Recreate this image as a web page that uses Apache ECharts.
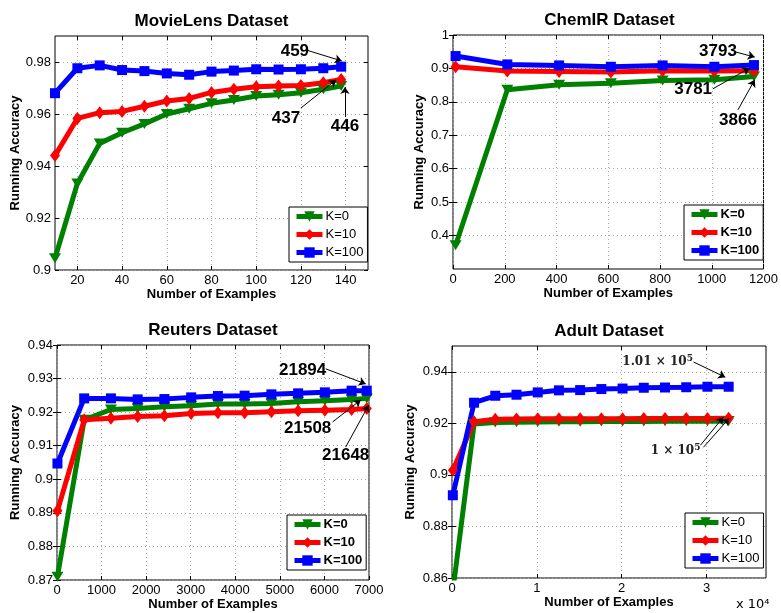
<!DOCTYPE html>
<html>
<head>
<meta charset="utf-8">
<script src="https://cdn.jsdelivr.net/npm/echarts@6/dist/echarts.min.js"></script>
<style>
  html, body { margin: 0; padding: 0; background: #fff; }
  #chart { width: 781px; height: 613px; }
</style>
</head>
<body>
<div id="chart"></div>
<script>
const FONT = '"Liberation Sans", Arial, Helvetica, sans-serif';
const seriesNames = ['K=0', 'K=10', 'K=100'];
const colors = ['#008000', '#ff0000', '#0000ff'];

// MovieLens
const movieX = [10, 20, 30, 40, 50, 60, 70, 80, 90, 100, 110, 120, 130, 138];
const movieK0 = [0.9045, 0.9333, 0.9487, 0.9528, 0.9562, 0.9600, 0.9620, 0.9641, 0.9654, 0.9669, 0.9674, 0.9682, 0.9695, 0.9708];
const movieK10 = [0.9440, 0.9583, 0.9605, 0.9610, 0.9630, 0.9650, 0.9660, 0.9683, 0.9695, 0.9705, 0.9708, 0.9710, 0.9720, 0.9733];
const movieK100 = [0.9680, 0.9776, 0.9787, 0.9769, 0.9765, 0.9756, 0.9751, 0.9763, 0.9767, 0.9772, 0.9771, 0.9772, 0.9776, 0.9782];
const movieXTicks = [20, 40, 60, 80, 100, 120, 140];
const movieYTicks = [0.9, 0.92, 0.94, 0.96, 0.98];
const movieNotes = ['459', '437', '446'];

// ChemIR
const chemX = [10, 210, 410, 610, 810, 1010, 1163];
const chemK0 = [0.371, 0.836, 0.851, 0.856, 0.864, 0.866, 0.876];
const chemK10 = [0.905, 0.892, 0.891, 0.889, 0.893, 0.892, 0.893];
const chemK100 = [0.937, 0.912, 0.909, 0.905, 0.909, 0.905, 0.910];
const chemXTicks = [0, 200, 400, 600, 800, 1000, 1200];
const chemYTicks = [0.4, 0.5, 0.6, 0.7, 0.8, 0.9, 1];
const chemNotes = ['3793', '3781', '3866'];

// Reuters
const reutersX = [10, 610, 1210, 1810, 2410, 3010, 3610, 4210, 4810, 5410, 6010, 6610, 6950];
const reutersK0 = [0.8710, 0.9177, 0.9208, 0.9211, 0.9216, 0.9219, 0.9224, 0.9224, 0.9226, 0.9231, 0.9234, 0.9238, 0.9241];
const reutersK10 = [0.8906, 0.9177, 0.9182, 0.9187, 0.9189, 0.9196, 0.9198, 0.9198, 0.9201, 0.9204, 0.9206, 0.9208, 0.9211];
const reutersK100 = [0.9047, 0.9241, 0.9241, 0.9238, 0.9239, 0.9244, 0.9248, 0.9249, 0.9253, 0.9256, 0.9259, 0.9264, 0.9264];
const reutersXTicks = [0, 1000, 2000, 3000, 4000, 5000, 6000, 7000];
const reutersYTicks = [0.87, 0.88, 0.89, 0.9, 0.91, 0.92, 0.93, 0.94];
const reutersNotes = ['21894', '21508', '21648'];

// Adult
const adultX = [100, 2600, 5100, 7600, 10100, 12600, 15100, 17600, 20100, 22600, 25100, 27600, 30100, 32600];
const adultK0 = [0.855, 0.9197, 0.9203, 0.9204, 0.9205, 0.9206, 0.9206, 0.9207, 0.9207, 0.9207, 0.9208, 0.9208, 0.9208, 0.9209];
const adultK10 = [0.9018, 0.9206, 0.9216, 0.9217, 0.9218, 0.9218, 0.9218, 0.9218, 0.9218, 0.9219, 0.9219, 0.9219, 0.9219, 0.9220];
const adultK100 = [0.8921, 0.9280, 0.9307, 0.9311, 0.9320, 0.9328, 0.9329, 0.9333, 0.9335, 0.9338, 0.9339, 0.9340, 0.9342, 0.9342];
const adultXTicks = [0, 10000, 20000, 30000];
const adultYTicks = [0.86, 0.88, 0.9, 0.92, 0.94];
const adultNotes = ['{a|1.01 × 10}{s|5}', '{a|1 × 10}{s|5}'];

const decimalFmt = (v) => String(+(+v).toFixed(3));

const panels = [
  {
    title: 'MovieLens Dataset', x: movieX, ys: [movieK0, movieK10, movieK100],
    xMin: 10, xMax: 150, yMin: 0.9, yMax: 0.99, xTicks: movieXTicks, yTicks: movieYTicks,
    grid: { left: 55, top: 36, width: 313, height: 234 }, yNameGap: 33,
    legend: { left: 289, top: 207 }, legendBold: false,
    notes: movieNotes,
    noteAt: [[117.3, 0.9842], [113.3, 0.9585], [139.7, 0.9554]],
    arrows: [[[122.4, 0.9846], [138.3, 0.9804]], [[120, 0.9623], [135.7, 0.9731]], [[139.7, 0.9588], [139.7, 0.9704]]]
  },
  {
    title: 'ChemIR Dataset', x: chemX, ys: [chemK0, chemK10, chemK100],
    xMin: 0, xMax: 1200, yMin: 0.3, yMax: 1, xTicks: chemXTicks, yTicks: chemYTicks,
    grid: { left: 453, top: 35, width: 313, height: 234 }, yNameGap: 27,
    legend: { left: 684, top: 205 }, legendBold: true,
    notes: chemNotes,
    noteAt: [[1024, 0.952], [928, 0.839], [1101, 0.746]],
    arrows: [[[1093, 0.949], [1166, 0.934]], [[1004, 0.839], [1146, 0.901]], [[1101, 0.776], [1166, 0.866]]]
  },
  {
    title: 'Reuters Dataset', x: reutersX, ys: [reutersK0, reutersK10, reutersK100],
    xMin: 0, xMax: 7000, yMin: 0.87, yMax: 0.94, xTicks: reutersXTicks, yTicks: reutersYTicks,
    grid: { left: 57, top: 345, width: 312, height: 235 }, yNameGap: 35,
    legend: { left: 287, top: 515 }, legendBold: true,
    notes: reutersNotes,
    noteAt: [[5511, 0.9326], [5624, 0.9153], [6477, 0.9072]],
    arrows: [[[6028, 0.9329], [6927, 0.9284]], [[6185, 0.9171], [6814, 0.9236]], [[6477, 0.9096], [6994, 0.9221]]]
  },
  {
    title: 'Adult Dataset', x: adultX, ys: [adultK0, adultK10, adultK100],
    xMin: 0, xMax: 37000, yMin: 0.86, yMax: 0.95, xTicks: adultXTicks, yTicks: adultYTicks,
    xFmt: (v) => String(v / 10000),
    grid: { left: 452, top: 346, width: 314, height: 232 }, yNameGap: 35,
    legend: { left: 685, top: 513 }, legendBold: false,
    notes: adultNotes, serifNotes: true,
    noteAt: [[24232, 0.9438], [26342, 0.9092]],
    arrows: [[[28452, 0.9438], [32204, 0.9379]], [[29273, 0.9115], [31969, 0.9224]], [[29625, 0.9107], [32673, 0.9220]]]
  }
];

const markers = [
  { symbol: 'triangle', symbolRotate: 180, symbolSize: [12, 10] },
  { symbol: 'diamond', symbolSize: [10, 13] },
  { symbol: 'rect', symbolSize: [10, 10] }
];

const option = {
  animation: false,
  backgroundColor: '#fff',
  textStyle: { fontFamily: FONT },
  grid: [], xAxis: [], yAxis: [], series: [], legend: [], graphic: []
};

const tickStyle = { inside: true, length: 4, lineStyle: { color: '#000', width: 1 } };
const gridLine = { show: true, lineStyle: { type: [1, 3], color: '#a8a8a8', width: 1 } };

panels.forEach((p, i) => {
  option.grid.push({ ...p.grid, show: true, borderColor: '#000', borderWidth: 1, backgroundColor: '#fff' });

  option.xAxis.push({
    type: 'value', gridIndex: i, position: 'bottom', min: p.xMin, max: p.xMax,
    name: 'Number of Examples', nameLocation: 'middle', nameGap: 17,
    nameTextStyle: { fontWeight: 'bold', fontSize: 13, color: '#000', fontFamily: FONT },
    axisLine: { show: false },
    axisTick: { ...tickStyle, customValues: p.xTicks },
    axisLabel: { customValues: p.xTicks, formatter: p.xFmt || ((v) => String(v)), color: '#000', fontSize: 13, margin: 4, fontFamily: FONT },
    splitLine: gridLine
  });
  option.xAxis.push({
    type: 'value', gridIndex: i, position: 'top', min: p.xMin, max: p.xMax,
    axisLine: { show: false }, axisTick: { ...tickStyle, customValues: p.xTicks },
    axisLabel: { show: false }, splitLine: { show: false }
  });
  option.yAxis.push({
    type: 'value', gridIndex: i, position: 'left', min: p.yMin, max: p.yMax,
    name: 'Running Accuracy', nameLocation: 'middle', nameGap: p.yNameGap,
    nameTextStyle: { fontWeight: 'bold', fontSize: 13, color: '#000', fontFamily: FONT },
    axisLine: { show: false },
    axisTick: { ...tickStyle, customValues: p.yTicks },
    axisLabel: { customValues: p.yTicks, formatter: decimalFmt, color: '#000', fontSize: 13, margin: 4, fontFamily: FONT },
    splitLine: gridLine
  });
  option.yAxis.push({
    type: 'value', gridIndex: i, position: 'right', min: p.yMin, max: p.yMax,
    axisLine: { show: false }, axisTick: { ...tickStyle, customValues: p.yTicks },
    axisLabel: { show: false }, splitLine: { show: false }
  });

  p.ys.forEach((ys, k) => {
    const s = {
      type: 'line', name: seriesNames[k],
      xAxisIndex: 2 * i, yAxisIndex: 2 * i,
      data: p.x.map((xv, j) => [xv, ys[j]]),
      ...markers[k],
      showSymbol: true, clip: true,
      lineStyle: { color: colors[k], width: 5 },
      itemStyle: { color: colors[k] },
      emphasis: { disabled: true }
    };
    if (k === 2) {
      s.markLine = {
        silent: true, symbol: ['none', 'arrow'], symbolSize: 7,
        lineStyle: { color: '#000', width: 1, type: 'solid' },
        label: { show: false }, emphasis: { disabled: true },
        data: p.arrows.map((a) => [{ coord: a[0] }, { coord: a[1] }])
      };
      s.markPoint = {
        silent: true, symbol: 'rect', symbolSize: 1,
        itemStyle: { color: 'rgba(0,0,0,0)' },
        label: p.serifNotes ? {
          show: true, position: 'inside', color: '#222',
          rich: {
            a: { fontFamily: '"DejaVu Serif", serif', fontSize: 12, fontWeight: 'bold', color: '#222', lineHeight: 16 },
            s: { fontFamily: '"DejaVu Serif", serif', fontSize: 9, fontWeight: 'bold', color: '#222', verticalAlign: 'top', lineHeight: 10 }
          }
        } : {
          show: true, position: 'inside', color: '#000', fontWeight: 'bold', fontSize: 17, fontFamily: FONT
        },
        data: p.notes.map((t, j) => ({ coord: p.noteAt[j], label: { formatter: t } }))
      };
    }
    option.series.push(s);
  });

  option.legend.push({
    left: p.legend.left, top: p.legend.top, orient: 'vertical',
    data: seriesNames, selectedMode: false,
    itemWidth: 26, itemHeight: 13, itemGap: 5, padding: [3, 4, 3, 5],
    borderColor: '#000', borderWidth: 1, backgroundColor: '#fff',
    lineStyle: { width: 5 },
    textStyle: { fontSize: 13, color: '#000', fontFamily: FONT, fontWeight: p.legendBold ? 'bold' : 'normal', padding: [0, 0, 0, -2] }
  });

  option.graphic.push({
    type: 'text', x: p.grid.left + p.grid.width / 2, y: p.grid.top - 15,
    style: { text: p.title, fill: '#000', fontSize: 17, fontWeight: 'bold', fontFamily: FONT, align: 'center', verticalAlign: 'middle' }
  });
});

option.graphic.push({
  type: 'text', x: 736, y: 598,
  style: { text: 'x 10⁴', fill: '#000', fontSize: 13, fontFamily: '"DejaVu Sans", sans-serif' }
});

const chart = echarts.init(document.getElementById('chart'), null, { renderer: 'canvas' });
chart.setOption(option);
</script>
</body>
</html>
